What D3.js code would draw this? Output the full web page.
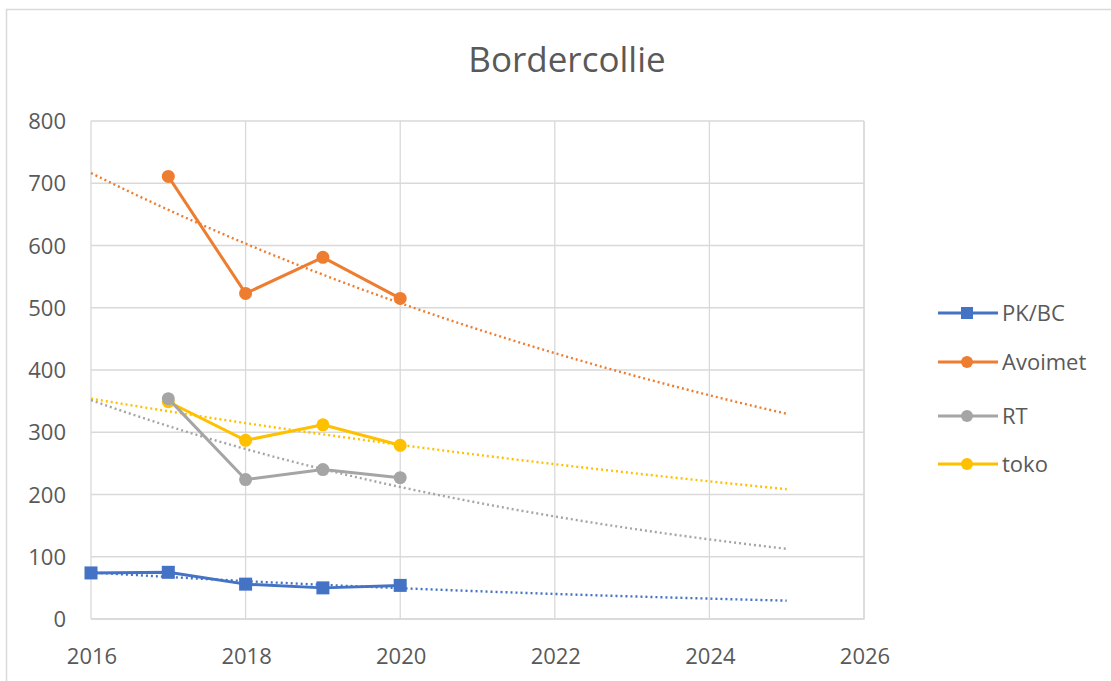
<!DOCTYPE html>
<html>
<head>
<meta charset="utf-8">
<script src="https://cdn.jsdelivr.net/npm/d3@7"></script>
<style>
  body { margin: 0; background: #fff; }
  text { font-family: "Open Sans", Roboto, sans-serif; fill: #595959; }
</style>
</head>
<body>
<div id="chart"></div>
<script>
// values
const years = [2016, 2017, 2018, 2019, 2020]
const pkbc = [74, 75, 56, 50, 54]
const avoimet = [null, 711, 523, 581, 515]
const rt = [null, 354, 224, 240, 227]
const toko = [null, 349, 287, 312, 279]

const seriesNames = ['PK/BC', 'Avoimet', 'RT', 'toko']
const seriesColors = ['#4472C4', '#ED7D31', '#A5A5A5', '#FFC000']
const xTicks = [2016, 2018, 2020, 2022, 2024, 2026]
const yTicks = [0, 100, 200, 300, 400, 500, 600, 700, 800]
const trendRange = [2016, 2025]

const W = 1111, H = 681
const plot = { left: 91, right: 864, top: 121, bottom: 619 }

const svg = d3.select('#chart').append('svg')
  .attr('width', W).attr('height', H)

// outer chart border
svg.append('rect')
  .attr('x', 6.5).attr('y', 9.5)
  .attr('width', W + 10).attr('height', H + 10)
  .attr('fill', 'none').attr('stroke', '#d9d9d9').attr('stroke-width', 1.5)

svg.append('text')
  .attr('x', 567).attr('y', 72)
  .attr('text-anchor', 'middle')
  .attr('font-size', 35)
  .text('Bordercollie')

const x = d3.scaleLinear().domain([2016, 2026]).range([plot.left, plot.right])
const y = d3.scaleLinear().domain([0, 800]).range([plot.bottom, plot.top])

// gridlines
svg.append('g').selectAll('line').data(yTicks).enter().append('line')
  .attr('x1', plot.left).attr('x2', plot.right)
  .attr('y1', d => y(d)).attr('y2', d => y(d))
  .attr('stroke', '#d9d9d9').attr('stroke-width', 1.3)
svg.append('g').selectAll('line').data(xTicks).enter().append('line')
  .attr('y1', plot.top).attr('y2', plot.bottom)
  .attr('x1', d => x(d)).attr('x2', d => x(d))
  .attr('stroke', '#d9d9d9').attr('stroke-width', 1.3)

// axis labels
svg.append('g').selectAll('text').data(yTicks).enter().append('text')
  .attr('x', 66).attr('y', d => y(d) + 8)
  .attr('text-anchor', 'end')
  .attr('font-size', 22)
  .text(d => d)
svg.append('g').selectAll('text').data(xTicks).enter().append('text')
  .attr('x', d => x(d) + 1).attr('y', 664)
  .attr('text-anchor', 'middle')
  .attr('font-size', 22)
  .text(d => d)

const allSeries = [pkbc, avoimet, rt, toko].map((vals, i) => ({
  name: seriesNames[i],
  color: seriesColors[i],
  points: years.map((yr, j) => ({ x: yr, y: vals[j] })).filter(p => p.y != null)
}))

// exponential trendline fitted to each series
const expFit = pts => {
  const xm = d3.mean(pts, p => p.x)
  const lm = d3.mean(pts, p => Math.log(p.y))
  const b = d3.sum(pts, p => (p.x - xm) * (Math.log(p.y) - lm)) / d3.sum(pts, p => (p.x - xm) ** 2)
  return xv => Math.exp(lm + b * (xv - xm))
}

const line = d3.line().x(d => x(d.x)).y(d => y(d.y))

const trendG = svg.append('g')
const lineG = svg.append('g')

// draw in reverse so PK/BC ends on top like the reference
allSeries.slice().reverse().forEach(s => {
  const f = expFit(s.points)
  const tPts = d3.range(trendRange[0], trendRange[1] + 0.001, 0.1).map(v => ({ x: v, y: f(v) }))
  trendG.append('path')
    .datum(tPts)
    .attr('d', line)
    .attr('fill', 'none')
    .attr('stroke', s.color)
    .attr('stroke-width', 2.4)
    .attr('stroke-dasharray', '2,3')
})

allSeries.slice().reverse().forEach(s => {
  lineG.append('path')
    .datum(s.points)
    .attr('d', line)
    .attr('fill', 'none')
    .attr('stroke', s.color)
    .attr('stroke-width', 3)
    .attr('stroke-linejoin', 'round')
  if (s.name === 'PK/BC') {
    lineG.selectAll(null).data(s.points).enter().append('rect')
      .attr('x', d => x(d.x) - 6.5).attr('y', d => y(d.y) - 6.5)
      .attr('width', 13).attr('height', 13)
      .attr('fill', s.color)
  } else {
    lineG.selectAll(null).data(s.points).enter().append('circle')
      .attr('cx', d => x(d.x)).attr('cy', d => y(d.y))
      .attr('r', 6.5)
      .attr('fill', s.color)
  }
})

// plot frame on right and bottom
svg.append('path')
  .attr('d', `M${plot.right},${plot.top}V${plot.bottom}H${plot.left}`)
  .attr('fill', 'none').attr('stroke', '#d9d9d9').attr('stroke-width', 1.3)

// legend
const legend = svg.append('g')
const legendY = [313, 362, 416, 464]
allSeries.forEach((s, i) => {
  const g = legend.append('g').attr('transform', `translate(0,${legendY[i]})`)
  g.append('line').attr('x1', 938).attr('x2', 998).attr('y1', 0).attr('y2', 0)
    .attr('stroke', s.color).attr('stroke-width', 3)
  if (s.name === 'PK/BC') {
    g.append('rect').attr('x', 961).attr('y', -6).attr('width', 12).attr('height', 12).attr('fill', s.color)
  } else {
    g.append('circle').attr('cx', 967).attr('cy', 0).attr('r', 6).attr('fill', s.color)
  }
  g.append('text').attr('x', 1002).attr('y', 8).attr('font-size', 22).text(s.name)
})
</script>
</body>
</html>
